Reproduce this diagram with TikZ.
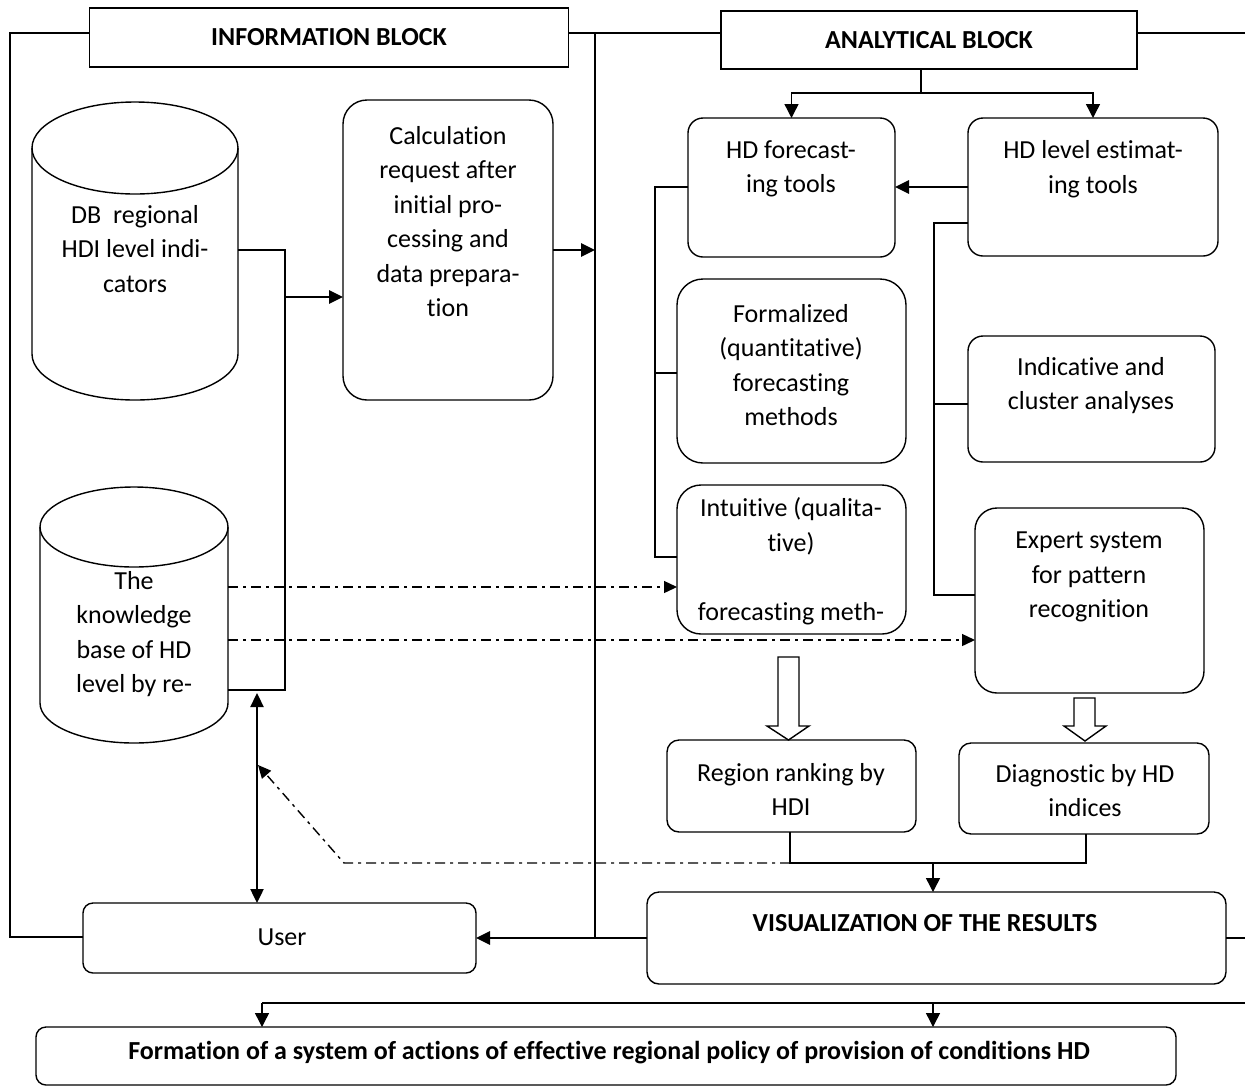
\documentclass[tikz,border=0pt]{standalone}
\usepackage{fontspec}
\setmainfont[Ligatures={NoCommon,NoContextual}]{Carlito}
\usetikzlibrary{arrows.meta}
\begin{document}
\begin{tikzpicture}[x=1pt,y=1pt,
  every node/.style={inner sep=0pt, outer sep=0pt},
  txt/.style={align=center, font=\fontsize{26}{34.5}\selectfont},
  btxt/.style={align=center, font=\bfseries\fontsize{26}{30}\selectfont},
  sqbox/.style={draw, line width=1.4pt},
  rbox/.style={draw, line width=1.4pt, rounded corners=#1},
  rbox/.default=15pt,
  ghost/.style={draw=none},
  conn/.style={line width=1.4pt},
  arr/.style={line width=1.4pt, -{Triangle[length=14pt,width=14pt]}},
  thk/.style={line width=2.8pt, -{Triangle[length=14pt,width=13pt]}},
  dd/.style={line width=1.4pt, dash pattern=on 10pt off 5pt on 3pt off 5pt},
  dda/.style={dd, -{Triangle[length=13pt,width=12pt]}},
  hollow/.style={draw, line width=1.4pt, fill=white, line join=miter},
]
\useasboundingbox (0,0) rectangle (1245,-1088);

% ---------- header blocks
\node[sqbox, btxt, minimum width=479pt, minimum height=59pt] (info) at (329,-37.5) {INFORMATION BLOCK};
\node[sqbox, btxt, minimum width=416pt, minimum height=58pt] (ana) at (929,-40) {ANALYTICAL BLOCK};

% ---------- information block
% DB cylinder
\node[ghost, minimum width=206pt, minimum height=298pt] (db) at (135,-251) {};
\draw[conn] (32,-148) -- (32,-354) arc[start angle=180, end angle=360, x radius=103pt, y radius=46pt] -- (238,-148);
\draw[conn] (135,-148) ellipse[x radius=103pt, y radius=46pt];
\node[txt] (dbt) at (135,-249) {DB\ \ regional\\HDI level indi-\\cators};

% knowledge base cylinder
\node[ghost, minimum width=188pt, minimum height=256pt] (kb) at (134,-615) {};
\draw[conn] (40,-527) -- (40,-703) arc[start angle=180, end angle=360, x radius=94pt, y radius=40pt] -- (228,-527);
\draw[conn] (134,-527) ellipse[x radius=94pt, y radius=40pt];
\node[txt] (kbt) at (134,-634) {The\\knowledge\\base of HD\\level by re-};

\node[rbox=24pt, minimum width=210pt, minimum height=300pt] (calc) at (448,-250) {};
\node[txt] (calct) at (448,-221.5) {Calculation\\request after\\initial pro-\\cessing and\\data prepara-\\tion};

\node[rbox=10pt, txt, minimum width=393pt, minimum height=70pt] (user) at (279.5,-938) {};
\node[txt] (usert) at (282,-937) {User};

% ---------- analytical block
\node[rbox, minimum width=207pt, minimum height=139pt] (fore) at (791.5,-187.5) {};
\node[txt] (foret) at (791,-169) {HD forecast-\\ing tools};
\node[rbox, minimum width=250pt, minimum height=138pt] (est) at (1093,-187) {};
\node[txt] (estt) at (1093,-169) {HD level estimat-\\ing tools};
\node[rbox=26pt, minimum width=229pt, minimum height=184pt] (formal) at (791.5,-371) {};
\node[txt] (formalt) at (791,-365) {Formalized\\(quantitative)\\forecasting\\methods};
\node[rbox, minimum width=247pt, minimum height=126pt] (indic) at (1091.5,-399) {};
\node[txt] (indict) at (1091,-385.5) {Indicative and\\cluster analyses};
\node[rbox=24pt, minimum width=229pt, minimum height=149pt] (intu) at (791.5,-559.5) {};
\node[txt] (intut) at (791,-561) {Intuitive (qualita-\\tive)\\[34.5pt]forecasting meth-};
\node[rbox=22pt, minimum width=229pt, minimum height=185pt] (expert) at (1089.5,-600.5) {};
\node[txt] (expertt) at (1089,-577) {Expert system\\for pattern\\recognition};
\node[rbox=12pt, minimum width=249pt, minimum height=92pt] (rank) at (791.5,-786) {};
\node[txt] (rankt) at (791,-789.5) {Region ranking by\\HDI};
\node[rbox=12pt, minimum width=250pt, minimum height=91pt] (diag) at (1084,-788.5) {};
\node[txt] (diagt) at (1085,-790.5) {Diagnostic by HD\\indices};
\node[rbox=12pt, minimum width=579pt, minimum height=92pt] (vis) at (936.5,-938) {};
\node[btxt] (vist) at (925,-923) {VISUALIZATION OF THE RESULTS};
\node[rbox=10pt, minimum width=1140pt, minimum height=58pt] (form) at (606,-1056) {};
\node[btxt] (formt) at (609,-1053) {Formation of a system of actions of effective regional policy of provision of conditions HD};

% ---------- frame lines
\coordinate (tl) at (10,-33);
\coordinate (bl) at (10,-937);
\coordinate (ftop) at (595,-33);
\coordinate (fbot) at (595,-938);
\coordinate (re1) at (1245,-33);
\coordinate (re2) at (1245,-938);
\draw[conn] (info.west |- tl) -- (tl) -- (bl) -- (user.west |- bl);
\draw[conn] (info.east |- ftop) -- (ana.west |- ftop);
\draw[conn] (ftop) -- (fbot);
\draw[conn] (ana.east |- re1) -- (re1);
\draw[thk] (vis.west |- fbot) -- (user.east |- fbot);
\draw[conn] (vis.east |- re2) -- (re2);

% ---------- information block connectors
\coordinate (j1) at (285,-250);
\coordinate (j2) at (285,-690);
\coordinate (jc) at (285,-297);
\draw[conn] (db.east |- j1) -- (j1) -- (j2) -- (kb.east |- j2);
\draw[thk] (jc) -- (calc.west |- jc);
\coordinate (fr) at (595,-250);
\draw[thk] (calc.east |- fr) -- (fr);

\coordinate (u1) at (257,-693);
\draw[line width=2.4pt, {Triangle[length=14pt,width=13pt]}-{Triangle[length=14pt,width=13pt]}] (u1) -- (user.north -| u1);

% ---------- analytical connectors
\coordinate (a1) at (921,-93);
\draw[conn] (ana.south -| a1) -- (a1);
\draw[arr] (a1) -| (fore.north);
\draw[arr] (a1) -| (est.north);
\coordinate (ef) at (0,-187);
\draw[thk] (est.west |- ef) -- (fore.east |- ef);

\coordinate (fb) at (655,-187);
\coordinate (fb1) at (655,-373);
\coordinate (fb2) at (655,-557);
\draw[conn] (fore.west |- fb) -- (fb) -- (fb2) -- (intu.west |- fb2);
\draw[conn] (fb1) -- (formal.west |- fb1);

\coordinate (eb) at (934,-223);
\coordinate (eb1) at (934,-404);
\coordinate (eb2) at (934,-595);
\draw[conn] (est.west |- eb) -- (eb) -- (eb2) -- (expert.west |- eb2);
\draw[conn] (eb1) -- (indic.west |- eb1);

% dash-dot links
\coordinate (k1) at (228,-587);
\coordinate (k2) at (228,-640);
\draw[dda] (kb.east |- k1) -- (intu.west |- k1);
\draw[dda] (kb.east |- k2) -- (expert.west |- k2);

% hollow arrows
\draw[hollow] (778,-657) -- (799,-657) -- (799,-726) -- (809,-726) -- (788.5,-740) -- (767,-726) -- (778,-726) -- cycle;
\draw[hollow] (1074,-698) -- (1095,-698) -- (1095,-726) -- (1106,-726) -- (1085,-741) -- (1064,-726) -- (1074,-726) -- cycle;

% results joins
\coordinate (b1) at (790,-863);
\coordinate (b2) at (1086,-863);
\coordinate (b3) at (933,-863);
\coordinate (b4) at (344,-863);
\coordinate (u2) at (258,-765);
\draw[conn] (rank.south -| b1) -- (b1) -- (b2) -- (diag.south -| b2);
\draw[arr] (b3) -- (vis.north -| b3);
\draw[dda] (b1) -- (b4) -- (u2);

% bottom
\coordinate (c1) at (262,-1003);
\coordinate (c2) at (933,-1003);
\coordinate (c3) at (1245,-1003);
\draw[conn] (c3) -- (c1);
\draw[arr] (c1) -- (form.north -| c1);
\draw[arr] (c2) -- (form.north -| c2);
\end{tikzpicture}
\end{document}
